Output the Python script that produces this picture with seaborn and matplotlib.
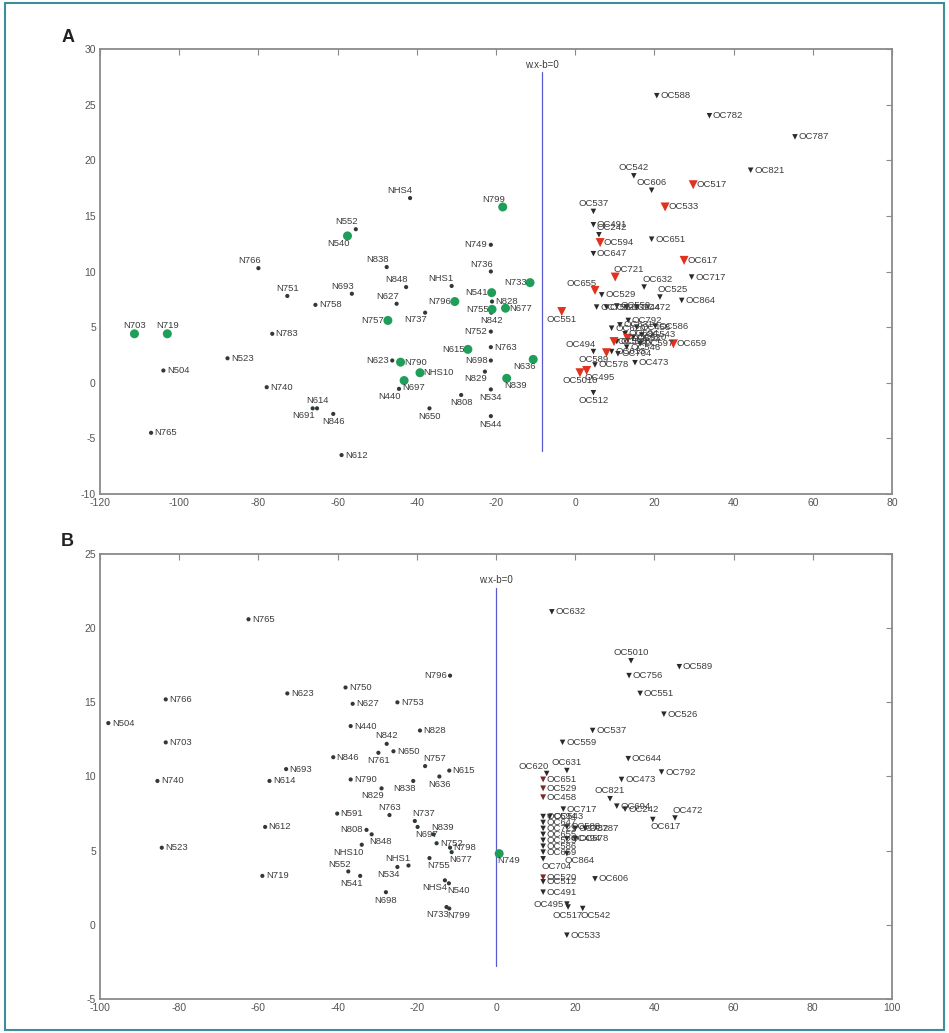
import matplotlib
matplotlib.use("Agg")
import matplotlib.pyplot as plt
import seaborn as sns
import pandas as pd
from matplotlib.patches import Rectangle

sns.set_theme(style="white")
plt.rcParams['font.family'] = ['Liberation Sans', 'DejaVu Sans']
plt.rcParams['axes.unicode_minus'] = False

# ---------------- Panel A : normal samples ----------------
A_N_NAMES = ["N766", "N703", "N719", "N504", "N765", "N751", "N693", "N758", "N783", "N523",
             "N740", "N614", "N691", "N846", "N612", "N552", "N540", "NHS4", "N799", "N749",
             "N838", "N736", "N848", "NHS1", "N733", "N541", "N828", "N627", "N796", "N755",
             "N842", "N677", "N757", "N737", "N752", "N615", "N763", "N623", "N790", "N698",
             "NHS10", "N829", "N636", "N839", "N697", "N440", "N534", "N808", "N650", "N544"]
A_N_X = [-80.0, -111.3, -103.0, -104.0, -107.1, -72.7, -56.4, -65.6, -76.5, -87.8,
         -77.9, -65.2, -66.3, -61.1, -59.0, -55.4, -57.5, -41.7, -18.3, -21.3,
         -47.6, -21.3, -42.7, -31.2, -11.4, -21.1, -21.0, -45.1, -30.4, -21.0,
         -21.2, -17.6, -47.3, -37.9, -21.3, -27.1, -21.3, -46.2, -44.1, -21.3,
         -39.2, -22.8, -10.6, -17.3, -43.2, -44.5, -21.3, -28.8, -36.8, -21.3]
A_N_Y = [10.3, 4.4, 4.4, 1.1, -4.5, 7.8, 8.0, 7.0, 4.4, 2.2,
         -0.4, -2.3, -2.3, -2.8, -6.5, 13.8, 13.2, 16.6, 15.8, 12.4,
         10.4, 10.0, 8.6, 8.7, 9.0, 8.1, 7.3, 7.1, 7.3, 6.6,
         6.3, 6.7, 5.6, 6.3, 4.6, 3.0, 3.2, 2.0, 1.85, 2.0,
         0.9, 1.0, 2.1, 0.4, 0.2, -0.55, -0.6, -1.1, -2.3, -3.0]
A_N_GREEN = ["N703", "N719", "N540", "N799", "N733", "N541", "N796", "N755", "N677",
             "N757", "N615", "N790", "NHS10", "N636", "N839", "N697"]

# ---------------- Panel A : tumour samples ----------------
A_OC_NAMES = ["OC588", "OC782", "OC787", "OC821", "OC542", "OC606", "OC517", "OC533", "OC537",
              "OC491", "OC242", "OC594", "OC651", "OC647", "OC617", "OC721", "OC717", "OC655",
              "OC632", "OC529", "OC525", "OC864", "OC551", "OC472", "OC586", "OC659", "OC473",
              "OC494", "OC589", "OC578", "OC5010", "OC495", "OC512", "OC704",
              "OC756", "OC526", "OC559", "OC644", "OC620", "OC631", "OC792", "OC458",
              "OC694", "OC520", "OC543", "OC598", "OC553", "OC528", "OC546", "OC597", "OC613"]
A_OC_X = [20.6, 33.9, 55.5, 44.3, 14.8, 19.3, 29.8, 22.7, 4.6,
          4.6, 6.0, 6.3, 19.3, 4.6, 27.5, 10.1, 29.4, 5.0,
          17.4, 6.7, 21.4, 26.9, -3.4, 15.5, 20.2, 24.8, 15.1,
          4.6, 7.9, 5.0, 1.2, 2.9, 4.6, 10.8,
          5.4, 7.9, 10.5, 13.0, 9.2, 11.3, 13.4, 15.5,
          12.6, 14.7, 16.8, 9.8, 13.2, 10.5, 13.0, 16.4, 9.2]
A_OC_Y = [25.8, 24.0, 22.1, 19.1, 18.6, 17.3, 17.8, 15.8, 15.4,
          14.2, 13.3, 12.6, 12.9, 11.6, 11.0, 9.5, 9.5, 8.3,
          8.6, 7.9, 7.7, 7.4, 6.4, 6.8, 5.1, 3.5, 1.8,
          2.8, 2.7, 1.6, 0.9, 1.1, -0.9, 2.6,
          6.8, 6.8, 6.9, 6.8, 4.9, 5.2, 5.6, 5.0,
          4.4, 4.1, 4.3, 3.7, 4.0, 3.7, 3.2, 3.5, 2.8]
A_OC_RED = ["OC517", "OC533", "OC594", "OC617", "OC721", "OC655", "OC551", "OC659",
            "OC589", "OC5010", "OC495", "OC598", "OC553"]

# ---------------- Panel B : normal samples ----------------
B_N_NAMES = ["N765", "N623", "N766", "N504", "N703", "N740", "N693", "N614", "N612", "N523",
             "N719", "N846", "N796", "N750", "N627", "N753", "N440", "N828", "N842", "N650",
             "N761", "N757", "N615", "N790", "N838", "N636", "N829", "N591", "N763", "N737",
             "N697", "N808", "N848", "N839", "N752", "N798", "N677", "NHS10", "NHS1", "N534",
             "N755", "N552", "N541", "N698", "NHS4", "N540", "N733", "N799", "N749"]
B_N_X = [-62.5, -52.7, -83.4, -97.9, -83.4, -85.5, -53.0, -57.2, -58.3, -84.4,
         -59.0, -41.1, -11.6, -38.0, -36.2, -24.9, -36.7, -19.2, -27.6, -25.9,
         -29.7, -17.9, -11.8, -36.7, -20.9, -14.3, -28.9, -40.1, -26.9, -20.5,
         -19.8, -32.7, -31.4, -15.8, -15.0, -11.6, -11.2, -33.9, -22.1, -24.9,
         -16.8, -37.3, -34.3, -27.8, -12.9, -11.9, -12.5, -11.8, 0.8]
B_N_Y = [20.6, 15.6, 15.2, 13.6, 12.3, 9.7, 10.5, 9.7, 6.6, 5.2,
         3.3, 11.3, 16.8, 16.0, 14.9, 15.0, 13.4, 13.1, 12.2, 11.7,
         11.6, 10.7, 10.4, 9.8, 9.7, 10.0, 9.2, 7.5, 7.4, 7.0,
         6.6, 6.4, 6.1, 6.1, 5.5, 5.2, 4.9, 5.4, 4.0, 3.9,
         4.5, 3.6, 3.3, 2.2, 3.0, 2.8, 1.2, 1.1, 4.8]
B_N_GREEN = ["N749"]

# ---------------- Panel B : tumour samples ----------------
B_OC_NAMES = ["OC632", "OC5010", "OC589", "OC756", "OC551", "OC526", "OC537", "OC559", "OC644",
              "OC792", "OC620", "OC631", "OC651", "OC473", "OC529", "OC821", "OC458", "OC694",
              "OC242", "OC472", "OC617", "OC717", "OC594", "OC647", "OC721", "OC655", "OC525",
              "OC586", "OC659", "OC588", "OC782", "OC787", "OC494", "OC578", "OC864", "OC543",
              "OC704", "OC520", "OC512", "OC606", "OC491", "OC495", "OC517", "OC542", "OC533"]
B_OC_X = [14.1, 34.1, 46.3, 33.6, 36.4, 42.4, 24.4, 16.8, 33.4,
          41.8, 12.8, 17.9, 11.9, 31.7, 11.9, 28.8, 11.9, 30.5,
          32.6, 45.2, 39.6, 17.0, 11.9, 11.9, 11.9, 11.9, 11.9,
          11.9, 11.9, 17.9, 20.0, 22.5, 17.9, 20.0, 17.9, 13.6,
          11.9, 11.9, 11.9, 25.0, 11.9, 17.9, 18.2, 21.9, 17.9]
B_OC_Y = [21.1, 17.8, 17.4, 16.8, 15.6, 14.2, 13.1, 12.3, 11.2,
          10.3, 10.2, 10.4, 9.8, 9.8, 9.2, 8.5, 8.6, 8.0,
          7.8, 7.2, 7.1, 7.8, 7.3, 6.9, 6.5, 6.1, 5.7,
          5.3, 4.9, 6.6, 6.5, 6.5, 5.8, 5.8, 4.8, 7.3,
          4.45, 3.2, 2.9, 3.1, 2.2, 1.4, 1.2, 1.1, -0.7]
B_OC_RED = ["OC651", "OC529", "OC520", "OC458"]

# separating hyperplane position (x) and its drawn extent (y)
A_SPLIT = (-8.5, -6.1, 27.9)
B_SPLIT = (0.0, -2.8, 22.7)

# label placement: offset in points, horizontal and vertical alignment
PLACE = {
    'r': ((2.5, 0), 'left', 'center'),
    'l': ((-2.5, 0), 'right', 'center'),
    'u': ((0, 2.5), 'center', 'bottom'),
    'ul': ((1.5, 2.0), 'right', 'bottom'),
    'ur': ((-1.5, 2.0), 'left', 'bottom'),
    'd': ((0, -2.5), 'center', 'top'),
    'dl': ((1.5, -2.0), 'right', 'top'),
    'dr': ((-1.5, -2.0), 'left', 'top'),
}
LABEL_A = {
    "N766": 'ul', "N703": 'u', "N719": 'u', "N751": 'u', "N693": 'ul', "N614": 'u', "N691": 'dl',
    "N846": 'd', "N552": 'ul', "N540": 'dl', "NHS4": 'ul', "N799": 'ul', "N749": 'l', "N838": 'ul',
    "N736": 'ul', "N848": 'ul', "NHS1": 'ul', "N733": 'l', "N541": 'l', "N627": 'ul', "N796": 'l',
    "N755": 'l', "N842": 'd', "N757": 'l', "N737": 'dl', "N752": 'l', "N615": 'l', "N623": 'l',
    "N698": 'l', "N829": 'dl', "N636": 'dl', "N839": 'dr', "N697": 'dr', "N440": 'dl', "N534": 'd',
    "N808": 'd', "N650": 'd', "N544": 'd',
    "OC542": 'u', "OC606": 'u', "OC537": 'u', "OC242": 'ur', "OC721": 'ur', "OC655": 'ul',
    "OC632": 'ur', "OC525": 'ur', "OC551": 'd', "OC494": 'ul', "OC589": 'dl', "OC5010": 'd',
    "OC495": 'dr', "OC512": 'd',
}
LABEL_B = {
    "N796": 'l', "N842": 'u', "N761": 'd', "N757": 'ur', "N838": 'dl', "N636": 'd', "N829": 'dl',
    "N763": 'u', "N737": 'ur', "N697": 'dr', "N808": 'l', "N848": 'dr', "N839": 'ur', "N677": 'dr',
    "NHS10": 'dl', "NHS1": 'ul', "N534": 'dl', "N755": 'dr', "N552": 'ul', "N541": 'dl', "N698": 'd',
    "NHS4": 'dl', "N540": 'dr', "N733": 'dl', "N799": 'dr', "N749": 'dr',
    "OC5010": 'u', "OC620": 'ul', "OC631": 'u', "OC821": 'u', "OC472": 'ur', "OC617": 'dr',
    "OC864": 'dr', "OC704": 'dr', "OC495": 'l', "OC517": 'd', "OC542": 'dr',
}

TEXT_COLOR = '#3c3c3c'
AXIS_COLOR = '#8a8a8a'


def frame(names, xs, ys, highlight, base, hi):
    df = pd.DataFrame({'name': names, 'x': xs, 'y': ys})
    df['kind'] = [hi if n in highlight else base for n in names]
    return df


STYLE = {
    'n': dict(marker='o', s=9, color='#2f3a36'),
    'n_green': dict(marker='o', s=42, color='#1f9e5a'),
    'oc': dict(marker='v', s=16, color='#2a2a2a'),
    'oc_red': dict(marker='v', s=42, color='#e0321e'),
    'oc_dark': dict(marker='v', s=18, color='#7a2a2a'),
}


def draw_panel(ax, parts, labels, split, xlim, ylim, xticks, yticks):
    for df in parts:
        for kind, sub in df.groupby('kind'):
            sns.scatterplot(data=sub, x='x', y='y', ax=ax, edgecolor='none',
                            legend=False, zorder=3, **STYLE[kind])
        for _, row in df.iterrows():
            (dx, dy), ha, va = PLACE[labels.get(row['name'], 'r')]
            ax.annotate(row['name'], (row['x'], row['y']), xytext=(dx, dy),
                        textcoords='offset points', ha=ha, va=va,
                        fontsize=6.8, color=TEXT_COLOR, zorder=4)
    x0, y_lo, y_hi = split
    ax.plot([x0, x0], [y_lo, y_hi], color='#5a5ad0', lw=0.9, zorder=2)
    ax.text(x0, y_hi + 0.2, 'w.x-b=0', ha='center', va='bottom',
            fontsize=7, color=TEXT_COLOR)
    ax.set_xlim(*xlim)
    ax.set_ylim(*ylim)
    ax.set_xticks(xticks)
    ax.set_yticks(yticks)
    ax.set_xlabel('')
    ax.set_ylabel('')
    ax.tick_params(direction='in', length=4, width=0.8, top=True, right=True,
                   labelsize=7.5, color=AXIS_COLOR, labelcolor='#555555', pad=3)
    for sp in ax.spines.values():
        sp.set_color(AXIS_COLOR)
        sp.set_linewidth(1.3)


fig = plt.figure(figsize=(9.49, 10.33), dpi=100)
axA = fig.add_axes([100 / 949, 1 - 494 / 1033, 792 / 949, 445 / 1033])
axB = fig.add_axes([100 / 949, 1 - 999 / 1033, 792 / 949, 445 / 1033])

a_n = frame(A_N_NAMES, A_N_X, A_N_Y, A_N_GREEN, 'n', 'n_green')
a_oc = frame(A_OC_NAMES, A_OC_X, A_OC_Y, A_OC_RED, 'oc', 'oc_red')
b_n = frame(B_N_NAMES, B_N_X, B_N_Y, B_N_GREEN, 'n', 'n_green')
b_oc = frame(B_OC_NAMES, B_OC_X, B_OC_Y, B_OC_RED, 'oc', 'oc_dark')

draw_panel(axA, [a_n, a_oc], LABEL_A, A_SPLIT, (-120, 80), (-10, 30),
           range(-120, 81, 20), range(-10, 31, 5))
draw_panel(axB, [b_n, b_oc], LABEL_B, B_SPLIT, (-100, 100), (-5, 25),
           range(-100, 101, 20), range(-5, 26, 5))

fig.text(68 / 949, 1 - 38 / 1033, 'A', fontsize=13, fontweight='bold',
         ha='center', va='center', color='#222222')
fig.text(67 / 949, 1 - 542 / 1033, 'B', fontsize=13, fontweight='bold',
         ha='center', va='center', color='#222222')

fig.patches.append(Rectangle((0.005, 0.003), 0.99, 0.994, transform=fig.transFigure,
                             fill=False, edgecolor='#3d8e9c', lw=1.5))

fig.savefig('out.png', dpi=100, facecolor='white')
